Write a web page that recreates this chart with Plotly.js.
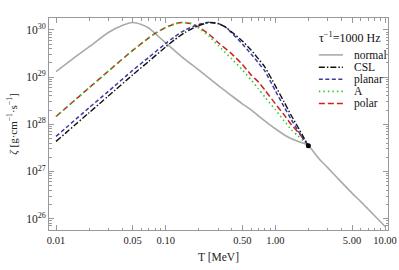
<!DOCTYPE html>
<html><head><meta charset="utf-8">
<script src="https://cdn.plot.ly/plotly-3.0.1.min.js"></script>
<style>html,body{margin:0;padding:0;background:#fff}#chart{width:399px;height:270px}</style>
</head><body><div id="chart"></div>
<script>
// ---- data ----
const T_normal = [0.01,0.015,0.02,0.03,0.04,0.05,0.06,0.07,0.08,0.1,0.12,0.15,0.2,0.25,0.3,0.4,0.5,0.6,0.7,0.8,1.0,1.2,1.4,1.6,1.8,2.0,2.5,3,4,5,6,7,8,10];
const Z_normal = [1.31e29,2.68e29,4.37e29,8.85e29,1.245e30,1.441e30,1.307e30,1.102e30,8.43e29,5.31e29,3.68e29,2.375e29,1.424e29,9.41e28,6.69e28,4.01e28,2.717e28,2.027e28,1.513e28,1.186e28,8.03e27,5.99e27,4.93e27,4.37e27,3.96e27,3.51e27,1.862e27,1.20e27,5.92e26,3.465e26,2.29e26,1.589e26,1.157e26,6.77e25];

const T_polar = [0.01,0.02,0.03,0.05,0.07,0.08,0.1,0.12,0.14,0.17,0.2,0.25,0.3,0.4,0.5,0.6,0.7,0.8,1.0,1.2,1.4,1.6,1.8,2.0];
const Z_polar = [1.463e28,5.92e28,1.343e29,3.68e29,6.77e29,8.43e29,1.13e30,1.34e30,1.441e30,1.373e30,1.157e30,8.03e29,5.44e29,3.105e29,1.862e29,1.116e29,7.93e28,5.37e28,2.717e28,1.589e28,9.76e27,6.94e27,4.93e27,3.51e27];

const T_A = [0.01,0.02,0.03,0.05,0.07,0.08,0.1,0.12,0.14,0.17,0.2,0.25,0.3,0.4,0.5,0.6,0.7,0.8,1.0,1.2,1.4,1.6,1.8,2.0];
const Z_A = [1.463e28,5.92e28,1.343e29,3.68e29,6.77e29,8.43e29,1.13e30,1.34e30,1.441e30,1.373e30,1.102e30,7.29e29,4.70e29,2.434e29,1.424e29,8.75e28,5.64e28,3.82e28,2.027e28,1.186e28,7.65e27,5.71e27,4.48e27,3.51e27];

const T_CSL = [0.01,0.02,0.03,0.05,0.07,0.1,0.12,0.15,0.2,0.25,0.3,0.35,0.4,0.5,0.6,0.7,0.8,1.0,1.2,1.4,1.6,1.8,2.0];
const Z_CSL = [4.33e27,1.752e28,3.97e28,1.116e29,2.154e29,4.37e29,6.14e29,8.85e29,1.245e30,1.441e30,1.373e30,1.157e30,9.07e29,5.85e29,3.77e29,2.434e29,1.648e29,6.53e28,2.995e28,1.513e28,8.85e27,5.44e27,3.51e27];

const T_planar = [0.01,0.02,0.03,0.05,0.07,0.1,0.12,0.15,0.2,0.25,0.3,0.35,0.4,0.5,0.6,0.7,0.8,1.0,1.2,1.4,1.6,1.8,2.0];
const Z_planar = [5.52e27,2.235e28,4.99e28,1.39e29,2.618e29,5.18e29,7.11e29,1.0e30,1.307e30,1.455e30,1.373e30,1.157e30,8.64e29,5.05e29,3.105e29,2.003e29,1.356e29,5.12e28,2.347e28,1.245e28,7.46e27,4.93e27,3.51e27];

const T_dot = [2.0];
const Z_dot = [3.51e27];

const seriesNames = ["normal","CSL","planar","A","polar"];
const legendTitle = "τ<sup>−1</sup>=1000 Hz";

const xTickVals = [0.01,0.05,0.1,0.5,1,5,10];
const xTickText = ["0.01","0.05","0.10","0.50","1.00","5.00","10.00"];
const yTickVals = [1e26,1e27,1e28,1e29,1e30];
const yTickText = ["10<sup>26</sup>","10<sup>27</sup>","10<sup>28</sup>","10<sup>29</sup>","10<sup>30</sup>"];

// ---- styles ----
const styles = {
  normal: {color:'#aaaaaa', dash:'solid', width:1.6},
  CSL:    {color:'#111111', dash:'6px,2px,1.5px,2px', width:1.4},
  planar: {color:'#3a3aa8', dash:'4px,2.5px', width:1.5},
  A:      {color:'#33cc33', dash:'1.5px,3px', width:1.6},
  polar:  {color:'#cc2222', dash:'6px,3px', width:1.5}
};

function minorVals(lo, hi, majors){
  const out=[];
  for(let e=lo;e<=hi;e++){for(let m=1;m<=9;m++){const v=+(m*Math.pow(10,e)).toPrecision(6);
    if(!majors.some(t=>Math.abs(t-v)/v<1e-6)) out.push(v);}}
  return out;
}

const data = [
  {x:T_normal,y:Z_normal,name:'normal'},
  {x:T_polar,y:Z_polar,name:'polar'},
  {x:T_A,y:Z_A,name:'A'},
  {x:T_planar,y:Z_planar,name:'planar'},
  {x:T_CSL,y:Z_CSL,name:'CSL'}
].map(s=>({x:s.x,y:s.y,type:'scatter',mode:'lines',name:s.name,showlegend:false,
  line:{color:styles[s.name].color,dash:styles[s.name].dash,width:styles[s.name].width,shape:'spline',smoothing:0.6}}));
data.push({x:T_dot,y:Z_dot,type:'scatter',mode:'markers',showlegend:false,marker:{color:'#000',size:5}});

const serif = 'Liberation Serif, Times New Roman, serif';
const frame = '#999999';

// manual legend (paper coords)
const legX0=0.796, legX1=0.867, legTX=0.893;
const legY=[0.826,0.768,0.711,0.654,0.597];
const shapes=[], annotations=[];
seriesNames.forEach((n,i)=>{
  shapes.push({type:'line',xref:'paper',yref:'paper',x0:legX0,x1:legX1,y0:legY[i],y1:legY[i],
    line:{color:styles[n].color,dash:styles[n].dash,width:styles[n].width}});
  annotations.push({xref:'paper',yref:'paper',x:legTX,y:legY[i],xanchor:'left',yanchor:'middle',
    text:n,showarrow:false,font:{family:serif,size:11.5,color:'#111'}});
});
annotations.push({xref:'paper',yref:'paper',x:0.792,y:0.906,xanchor:'left',yanchor:'middle',
  text:legendTitle,showarrow:false,font:{family:serif,size:12,color:'#111'}});

const layout = {
  width:399,height:270,
  margin:{l:49,r:11,t:18,b:39.5},
  paper_bgcolor:'#fff',plot_bgcolor:'#fff',
  showlegend:false,
  font:{family:serif,color:'#222'},
  xaxis:{type:'log',range:[-2.064,1.027],
    tickmode:'array',tickvals:xTickVals,ticktext:xTickText,
    ticks:'inside',ticklen:5,tickwidth:1,tickcolor:frame,
    showline:true,linecolor:frame,linewidth:1,mirror:'ticks',showgrid:false,zeroline:false,
    tickfont:{family:serif,size:10.5,color:'#222'},
    minor:{tickmode:'array',tickvals:minorVals(-2,1,xTickVals),ticks:'inside',ticklen:2.5,tickcolor:frame,showgrid:false},
    title:{text:'T [MeV]',font:{family:serif,size:11.5,color:'#222'},standoff:8}},
  yaxis:{type:'log',range:[25.757,30.254],
    tickmode:'array',tickvals:yTickVals,ticktext:yTickText,
    ticks:'inside',ticklen:5,tickwidth:1,tickcolor:frame,
    showline:true,linecolor:frame,linewidth:1,mirror:'ticks',showgrid:false,zeroline:false,
    tickfont:{family:serif,size:11.5,color:'#222'},
    minor:{tickmode:'array',tickvals:minorVals(25,30,yTickVals),ticks:'inside',ticklen:2.5,tickcolor:frame,showgrid:false},
    title:{text:'<i>ζ</i> [g·cm<sup>−1</sup>·s<sup>−1</sup>]',font:{family:serif,size:11,color:'#222'},standoff:6}},
  shapes:shapes,annotations:annotations
};
Plotly.newPlot('chart',data,layout,{displayModeBar:false,staticPlot:true});
</script></body></html>
